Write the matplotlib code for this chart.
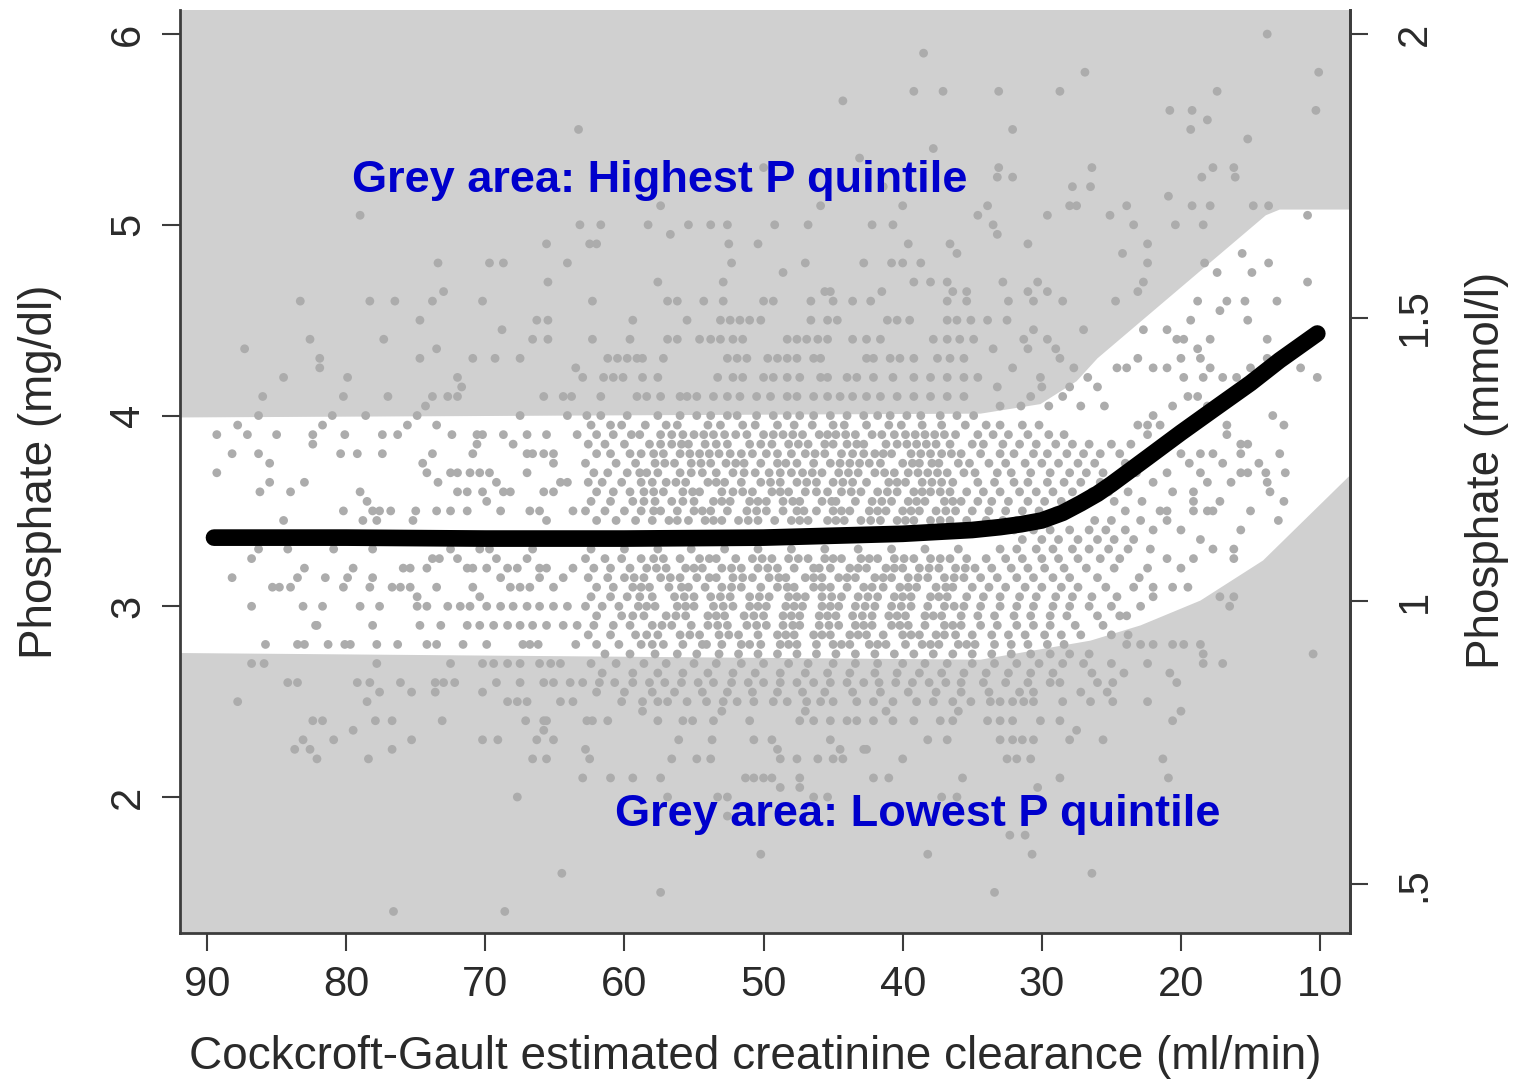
import matplotlib
matplotlib.use('Agg')
import matplotlib.pyplot as plt

OUT_PNG = 'out.png'

# white band = middle quintiles of phosphate (mg/dl) by clearance (ml/min)
band_top_x = [92, 34.4, 30.1, 27.5, 26.0, 21.0, 13.9, 12.9, 7.8]
band_top_y = [3.99, 4.01, 4.06, 4.18, 4.30, 4.61, 5.05, 5.08, 5.08]
band_low_x = [92, 34.4, 26.5, 22.9, 18.6, 14.1, 7.8]
band_low_y = [2.755, 2.72, 2.82, 2.90, 3.03, 3.24, 3.69]

# fitted curve
fit_x = [89.5, 80, 70, 60, 50, 45, 40, 35, 33, 31.5, 30, 28.5, 27.2, 26, 25, 22.4, 20, 17.7,
         15, 12.9, 10.2]
fit_y = [3.36, 3.36, 3.355, 3.355, 3.36, 3.37, 3.38, 3.40, 3.415, 3.43, 3.45, 3.49, 3.54, 3.59,
         3.64, 3.78, 3.91, 4.03, 4.17, 4.29, 4.43]

# patients, grouped by phosphate level -> clearance values
pts_high = {
    6.0: [13.8],
    5.9: [38.5],
    5.8: [26.9, 10.1],
    5.7: [39.2, 37.1, 33.1, 28.7, 17.4],
    5.65: [44.3],
    5.6: [20.8, 19.2, 10.3],
    5.55: [18.1],
    5.5: [63.3, 32.1, 19.3],
    5.45: [15.2],
    5.4: [37.8],
    5.35: [43.1],
    5.3: [50.0, 33.1, 26.4, 17.7, 16.2],
    5.25: [33.2, 32.1, 18.5, 16.1],
    5.2: [41.4, 27.8, 26.5],
    5.15: [20.9],
    5.1: [57.4, 45.9, 40.0, 33.9, 28.0, 27.5, 23.9, 19.2, 17.9, 14.8, 13.7],
    5.05: [79.0, 34.6, 29.6, 25.1, 10.9],
    5.0: [63.2, 61.7, 58.3, 55.4, 53.8, 52.6, 49.2, 46.8, 42.2, 40.7, 33.5, 23.4, 20.4, 18.4],
    4.95: [56.7, 33.2],
    4.9: [65.6, 62.5, 62.0, 52.5, 50.4, 39.6, 36.6, 31.0, 22.4],
    4.85: [36.1, 24.2, 15.6],
    4.8: [73.4, 69.7, 68.7, 64.1, 52.3, 47.0, 42.8, 40.8, 40.0, 38.7, 22.4, 18.3, 13.7],
    4.75: [48.6, 17.4, 14.9],
    4.7: [65.5, 57.6, 52.9, 39.2, 38.0, 36.8, 32.8, 30.3, 22.7, 10.9],
    4.65: [73.0, 45.6, 45.2, 41.5, 36.4, 35.4, 31.0, 29.6, 23.1],
    4.6: [83.3, 78.3, 76.5, 73.8, 70.2, 62.3, 56.9, 56.2, 54.3, 52.9, 50.0, 49.3, 46.6, 45.0,
          43.6, 42.3, 36.8, 35.4, 32.4, 30.6, 28.5, 24.7, 18.8, 16.7, 15.4, 13.1],
    4.55: [17.2],
    4.5: [74.7, 66.3, 65.5, 59.4, 55.5, 53.1, 52.4, 51.7, 51.0, 50.2, 46.6, 45.4, 44.7, 41.1,
          40.4, 39.5, 36.8, 36.1, 35.1, 33.9, 32.5, 19.3, 15.2],
    4.45: [68.8, 30.6, 27.0, 22.7, 21.0],
    4.4: [82.6, 77.3, 66.6, 65.5, 62.3, 59.6, 56.9, 56.2, 54.6, 53.8, 53.1, 52.2, 51.5, 48.3,
          47.6, 46.9, 46.1, 45.4, 43.6, 42.6, 41.6, 37.8, 36.8, 35.9, 34.9, 31.3, 29.6, 20.3,
          19.8, 17.9, 13.8],
    4.35: [87.3, 73.5, 33.5, 31.0, 29.0, 18.8],
    4.3: [81.9, 74.7, 70.9, 69.3, 67.5, 61.2, 60.5, 59.8, 59.1, 58.7, 57.2, 52.6, 51.9, 51.2,
          49.7, 49.0, 48.3, 47.6, 46.4, 45.9, 42.6, 42.1, 40.9, 40.2, 39.2, 37.5, 36.6, 35.6,
          28.7, 23.1, 20.0, 18.6, 13.8],
    4.25: [81.9, 63.5, 32.1, 27.7, 24.6, 23.9, 22.0, 21.0, 17.9, 15.0, 11.4],
    4.2: [84.5, 79.9, 72.0, 63.0, 61.5, 60.8, 60.1, 58.7, 57.6, 53.3, 52.2, 51.5, 50.0, 49.3,
          48.3, 47.4, 45.9, 45.4, 44.0, 43.3, 42.1, 40.7, 39.2, 38.0, 36.8, 35.6, 34.6, 30.1,
          26.7, 19.8, 18.4, 17.0, 16.0, 10.2],
    4.15: [71.7, 33.2, 30.0, 28.0, 26.0],
    4.1: [86.0, 80.2, 77.0, 73.8, 72.7, 72.0, 65.8, 64.4, 63.8, 61.7, 59.1, 58.4, 57.4, 56.0,
          55.5, 54.8, 53.6, 52.6, 51.7, 50.5, 49.5, 48.3, 47.6, 46.4, 45.4, 44.5, 43.6, 42.6,
          41.6, 40.4, 39.2, 38.0, 36.8, 35.6, 30.8, 28.5, 19.5, 18.8],
    4.05: [74.3, 33.0, 31.5, 29.5, 27.2, 25.5, 20.6, 18.1],
    4.0: [86.3, 81.0, 78.6, 74.9, 67.5, 64.1, 62.7, 61.7, 59.8, 57.6, 56.0, 54.8, 53.8, 52.6,
          51.9, 50.5, 49.3, 48.3, 47.4, 46.4, 45.2, 44.0, 42.8, 41.8, 40.9, 39.7, 38.7, 37.3,
          36.1, 34.9, 22.0, 13.4],
}

pts_mid = {
    3.95: [87.8, 81.7, 75.6, 73.5, 62.4, 61.0, 60.2, 58.5, 57.0, 56.2, 54.0, 53.1, 51.5, 50.6,
           49.0, 47.8, 46.5, 45.0, 44.2, 42.6, 41.0, 40.1, 38.6, 37.2, 35.5, 34.0, 33.0, 31.4,
           30.2, 23.1, 22.4, 21.5, 16.7, 12.6],
    3.9: [89.3, 87.1, 85.0, 82.4, 80.1, 77.4, 76.3, 72.4, 70.6, 70.2, 68.7, 67.0, 65.6, 63.4,
          62.0, 60.8, 59.5, 58.9, 57.4, 55.8, 55.0, 53.6, 52.0, 51.2, 50.0, 48.6, 47.2, 46.0,
          44.8, 43.4, 42.2, 41.5, 39.8, 38.4, 37.0, 36.2, 34.6, 33.5, 32.4, 31.0, 29.5, 28.4,
          22.4, 16.7, 56.6, 54.3, 52.8, 49.3, 47.9, 45.4, 44.1, 40.6, 39.1, 37.7],
    3.85: [82.4, 70.6, 68.0, 62.6, 61.4, 60.0, 58.2, 56.6, 55.4, 54.2, 52.6, 51.0, 49.4, 48.2,
           46.8, 45.6, 44.0, 42.8, 41.2, 40.4, 39.0, 37.6, 36.6, 35.0, 34.2, 32.8, 31.6, 30.4,
           29.0, 27.8, 26.6, 25.0, 23.6, 21.0, 15.7, 15.2, 57.4, 55.9, 53.4, 50.2, 47.5, 45.0,
           43.3, 39.7, 38.3],
    3.8: [88.2, 86.3, 80.4, 79.2, 77.4, 73.8, 70.9, 67.0, 66.6, 65.8, 65.1, 62.0, 61.0, 59.6,
          58.8, 57.2, 56.0, 54.6, 53.2, 52.4, 50.8, 49.8, 48.0, 47.0, 45.6, 44.4, 43.6, 42.0,
          40.8, 39.4, 38.0, 37.2, 35.8, 34.4, 33.0, 32.0, 30.6, 29.6, 28.2, 27.0, 25.8, 24.4,
          20.0, 18.6, 17.7, 15.7, 12.9, 57.9, 55.3, 53.9, 51.6, 49.0, 46.3, 42.8, 41.4, 38.7,
          36.5],
    3.75: [85.5, 74.5, 65.1, 62.8, 60.6, 59.2, 57.8, 56.4, 55.2, 53.8, 52.0, 51.4, 49.0, 48.4,
           46.4, 45.2, 43.8, 42.4, 41.6, 40.0, 38.8, 37.4, 36.0, 35.2, 33.8, 32.6, 31.2, 30.0,
           28.8, 27.4, 26.2, 24.0, 22.6, 19.4, 17.0, 14.4, 57.1, 54.5, 52.7, 50.2, 47.6, 44.5,
           43.1, 39.3, 37.9],
    3.7: [89.3, 74.2, 72.5, 72.0, 71.1, 70.4, 69.7, 67.0, 62.2, 61.2, 59.8, 58.4, 57.6, 56.0,
          54.4, 53.4, 52.2, 50.6, 49.6, 48.0, 47.2, 45.8, 44.6, 43.2, 42.0, 40.6, 39.6, 38.2,
          36.8, 35.6, 34.8, 33.2, 32.2, 30.8, 29.4, 28.0, 26.8, 25.6, 23.2, 21.0, 18.6, 15.7,
          15.2, 13.9, 12.5, 58.9, 55.2, 51.4, 48.8, 46.5, 43.9, 41.3, 38.9, 37.5],
    3.65: [85.5, 83.0, 73.4, 69.2, 64.6, 64.1, 62.6, 61.6, 60.2, 58.0, 57.0, 55.6, 54.0, 52.8,
           51.6, 50.2, 48.8, 47.6, 46.2, 45.0, 43.6, 42.6, 41.0, 39.8, 38.6, 37.2, 36.4, 34.6,
           33.4, 32.0, 31.0, 29.6, 28.4, 27.2, 25.8, 24.6, 22.0, 18.1, 16.4, 13.8, 58.8, 56.3,
           53.4, 49.5, 46.9, 44.3, 40.4, 37.9],
    3.6: [86.2, 84.0, 79.0, 72.0, 71.3, 70.2, 68.7, 68.2, 65.8, 65.1, 62.0, 60.8, 59.6, 58.6,
          57.2, 55.8, 54.6, 53.0, 52.2, 50.8, 49.4, 48.2, 47.0, 45.4, 44.4, 43.0, 41.8, 40.4,
          39.2, 38.0, 36.6, 35.4, 34.2, 33.0, 31.6, 30.4, 29.2, 27.8, 26.4, 25.2, 23.8, 20.6,
          19.1, 13.6, 57.9, 55.1, 51.5, 48.8, 46.2, 43.7, 41.1, 38.6, 37.3],
    3.55: [78.5, 69.9, 62.4, 61.0, 59.4, 57.8, 56.6, 55.0, 53.6, 52.4, 51.0, 49.8, 48.6, 47.4,
           45.8, 44.8, 43.4, 42.2, 40.8, 39.6, 38.4, 37.0, 35.8, 34.6, 33.6, 32.4, 31.0, 29.8,
           28.6, 27.0, 24.8, 22.8, 19.1, 17.2, 12.6, 58.6, 55.8, 53.0, 50.4, 47.9, 45.1, 41.5,
           39.0, 36.4],
    3.5: [80.2, 78.1, 77.6, 76.8, 75.0, 73.5, 72.5, 71.3, 68.9, 66.8, 66.1, 63.7, 62.8, 61.4,
          60.0, 58.8, 57.4, 56.2, 55.0, 53.8, 52.6, 51.2, 49.8, 48.6, 47.6, 46.2, 45.0, 43.8,
          42.4, 41.2, 40.0, 38.8, 37.6, 36.2, 35.0, 33.8, 32.6, 31.4, 30.2, 29.0, 24.0, 21.5,
          21.0, 19.1, 18.1, 17.7, 15.0, 57.9, 54.4, 50.5, 47.1, 44.4, 41.8, 39.4, 36.9],
    3.45: [84.5, 78.8, 77.8, 75.2, 65.6, 62.0, 60.6, 59.2, 58.0, 56.8, 55.4, 54.2, 53.0, 51.8,
           50.4, 49.2, 48.0, 46.8, 45.4, 44.2, 43.0, 41.6, 40.4, 39.2, 38.0, 36.6, 35.4, 34.0,
           32.8, 31.8, 26.2, 25.0, 22.9, 21.0, 13.0, 56.2, 53.6, 51.1, 47.4, 44.8, 42.3, 39.8,
           37.3],
    3.4: [32.0, 30.6, 29.4, 28.0, 26.6, 25.4, 24.0, 22.0, 20.0, 15.7],
    3.35: [31.4, 30.0, 28.8, 27.4, 26.0, 24.8, 23.4, 18.6],
    3.3: [86.3, 84.2, 80.9, 78.1, 72.5, 70.4, 69.7, 66.6, 62.4, 60.0, 57.6, 55.2, 52.8, 50.4,
          48.0, 45.6, 43.2, 40.8, 38.4, 36.0, 33.0, 31.8, 30.4, 29.2, 27.8, 26.6, 25.2, 23.8,
          22.2, 17.7, 16.2],
    3.25: [86.8, 73.8, 73.3, 72.0, 69.2, 67.0, 62.8, 61.4, 60.2, 58.8, 57.2, 56.0, 54.6, 53.4,
           52.0, 50.8, 49.4, 48.2, 46.8, 45.6, 44.4, 43.0, 41.8, 40.6, 39.2, 38.0, 36.6, 35.4,
           34.0, 32.6, 31.4, 30.0, 28.8, 27.4, 25.8, 24.4, 21.0, 19.1, 16.2, 57.9, 53.9, 50.1,
           47.5, 45.0, 42.4, 39.9, 37.3],
    3.2: [83.0, 79.5, 75.9, 75.4, 74.2, 71.3, 70.9, 69.9, 68.4, 67.7, 66.1, 65.6, 63.7, 62.2,
          61.0, 59.6, 58.4, 57.0, 55.6, 54.4, 53.0, 51.6, 50.4, 49.0, 47.8, 46.4, 45.2, 43.8,
          42.6, 41.2, 40.0, 38.8, 37.4, 36.2, 34.8, 33.6, 32.2, 31.0, 29.8, 28.4, 26.8, 24.8,
          22.4, 20.0, 57.7, 55.0, 52.3, 49.7, 46.0, 43.2, 40.6, 38.1, 35.5],
    3.15: [88.2, 83.5, 81.5, 79.9, 78.1, 68.9, 66.1, 64.4, 62.6, 61.2, 60.0, 58.6, 57.4, 56.0,
           54.8, 53.4, 52.2, 50.8, 49.6, 48.4, 47.0, 45.8, 44.6, 43.4, 42.0, 40.8, 39.6, 38.2,
           37.0, 35.6, 34.4, 33.2, 31.8, 30.6, 29.2, 28.0, 26.0, 23.0, 59.3, 56.7, 53.9, 51.5,
           48.9, 46.4, 44.0, 41.4, 38.9, 36.3],
    3.1: [85.3, 84.8, 84.0, 80.2, 78.3, 76.7, 76.1, 75.4, 73.5, 70.9, 68.2, 67.5, 66.8, 65.1,
          62.0, 60.8, 59.4, 58.2, 56.8, 55.4, 54.2, 53.0, 51.6, 50.2, 49.0, 47.8, 46.4, 45.2,
          44.0, 42.8, 41.4, 40.2, 39.0, 37.6, 36.4, 35.0, 33.8, 32.6, 31.2, 30.0, 28.6, 27.4,
          25.4, 23.4, 22.0, 20.6, 19.5, 58.8, 55.9, 52.3, 48.3, 45.8, 42.2, 39.6, 36.9],
    3.05: [74.9, 70.4, 62.4, 61.0, 59.8, 58.0, 56.4, 55.0, 53.8, 52.4, 51.0, 49.6, 48.2, 47.0,
           45.8, 44.4, 43.2, 41.8, 40.6, 39.4, 38.0, 36.8, 35.4, 34.2, 33.0, 31.6, 30.4, 29.0,
           27.8, 26.4, 24.6, 22.0, 17.2, 16.2, 58.9, 55.7, 53.1, 50.3, 47.6, 45.1, 42.5, 40.0,
           37.4],
    3.0: [86.8, 83.1, 81.7, 79.0, 77.6, 74.9, 74.2, 72.7, 71.8, 71.1, 69.9, 68.9, 68.0, 67.0,
          66.1, 65.1, 64.1, 62.8, 61.6, 60.4, 59.0, 57.8, 56.2, 55.0, 53.6, 52.2, 51.0, 49.8,
          48.4, 47.2, 45.8, 44.6, 43.4, 42.0, 40.8, 39.4, 38.2, 37.0, 35.6, 34.4, 33.0, 31.8,
          30.6, 29.2, 28.0, 26.6, 25.0, 22.9, 16.5, 58.4, 55.6, 52.9, 50.4, 47.8, 45.2, 42.7,
          40.1, 36.3],
    2.95: [62.0, 60.2, 58.6, 57.0, 55.6, 54.0, 52.8, 51.4, 50.0, 48.6, 47.4, 46.0, 44.8, 43.6,
           42.2, 41.0, 39.8, 38.4, 37.2, 35.8, 34.6, 33.4, 32.0, 30.8, 29.4, 28.2, 26.0, 24.4,
           23.9, 59.4, 56.3, 53.4, 50.7, 48.0, 45.4, 42.9, 40.4, 37.8],
    2.9: [82.2, 82.1, 78.1, 74.7, 73.2, 71.3, 70.4, 69.4, 68.4, 67.5, 66.6, 65.6, 64.4, 63.4,
          62.2, 60.8, 59.6, 58.0, 56.6, 55.2, 54.0, 52.6, 51.2, 49.8, 48.6, 47.4, 46.0, 44.6,
          43.4, 42.2, 40.8, 39.6, 38.4, 37.0, 35.8, 34.4, 33.2, 31.8, 30.6, 29.4, 27.6, 25.6,
          57.3, 53.3, 50.5, 47.9, 45.3, 42.8, 40.2, 36.4],
    2.85: [62.6, 61.0, 59.2, 57.6, 56.0, 54.6, 53.2, 51.8, 50.4, 49.0, 47.8, 46.4, 45.2, 43.8,
           42.6, 41.4, 40.0, 38.8, 37.6, 36.2, 35.0, 33.6, 32.4, 31.2, 29.8, 28.6, 27.2, 25.0,
           23.8, 58.4, 55.3, 52.5, 48.4, 45.8, 43.2, 39.4, 37.0],
    2.8: [85.8, 83.5, 83.0, 81.3, 80.1, 79.7, 77.8, 76.3, 74.2, 73.5, 71.6, 69.9, 67.3, 66.8,
          66.2, 63.5, 62.0, 60.4, 58.8, 57.2, 55.8, 54.4, 53.0, 51.6, 50.2, 48.8, 47.6, 46.2,
          45.0, 43.8, 42.4, 41.2, 39.8, 38.6, 37.4, 36.0, 34.8, 33.4, 32.2, 31.0, 29.6, 28.4,
          23.9, 22.9, 22.0, 20.6, 19.8, 18.6, 58.0, 54.1, 51.0, 48.2, 44.4, 41.8, 38.0, 35.4],
    2.75: [61.4, 59.6, 57.8, 56.2, 54.8, 53.2, 51.8, 50.4, 49.0, 47.6, 46.2, 44.8, 43.4, 42.0,
           40.6, 39.2, 37.8, 36.4, 35.0, 33.6, 32.2, 30.8, 29.4, 28.0, 26.6, 18.4, 10.5],
}

pts_low = {
    2.7: [86.8, 85.9, 77.8, 72.5, 70.2, 69.4, 68.4, 67.5, 66.1, 65.3, 64.6, 62.4, 60.6, 58.6,
          57.0, 55.0, 53.4, 51.6, 50.0, 48.2, 46.8, 45.0, 43.4, 41.8, 40.0, 38.4, 36.8, 35.0,
          33.4, 31.8, 30.2, 28.5, 27.0, 25.0, 22.4, 18.4, 17.0],
    2.65: [61.6, 59.4, 57.6, 55.8, 54.0, 52.2, 50.6, 48.8, 47.0, 45.4, 43.8, 42.0, 40.4, 38.8,
           37.2, 35.6, 34.0, 32.4, 30.8, 29.2, 26.4, 24.1, 20.8],
    2.6: [84.2, 83.5, 79.2, 78.3, 76.1, 73.6, 73.0, 72.2, 69.2, 67.5, 65.8, 65.1, 63.9, 63.0,
          61.8, 60.7, 59.4, 58.2, 57.1, 55.9, 54.7, 53.6, 52.3, 51.1, 50.0, 48.8, 47.6, 46.4,
          45.2, 44.0, 42.8, 41.7, 40.5, 39.3, 38.1, 36.9, 35.8, 34.2, 32.6, 31.0, 29.4, 28.7,
          26.0, 24.9, 20.3],
    2.55: [77.6, 75.3, 73.6, 70.2, 62.0, 60.0, 58.0, 56.4, 54.4, 52.6, 50.8, 49.0, 47.2, 45.6,
           43.6, 41.6, 39.6, 37.6, 35.8, 33.8, 31.6, 30.6, 27.2, 25.3],
    2.5: [87.8, 78.5, 68.4, 67.7, 67.0, 64.6, 63.7, 60.2, 58.7, 57.6, 56.9, 55.5, 54.1, 52.9,
          51.9, 50.7, 49.3, 48.3, 46.9, 45.9, 45.0, 43.3, 42.1, 40.7, 39.0, 37.8, 36.4, 35.1,
          33.7, 33.0, 32.1, 31.3, 30.6, 28.5, 26.5, 24.9, 22.4],
    2.45: [58.7, 53.0, 47.0, 41.2, 36.0, 20.0],
    2.4: [82.4, 81.7, 77.9, 76.7, 73.1, 67.1, 65.8, 65.6, 62.7, 62.3, 61.2, 57.6, 55.8, 55.1,
          53.6, 51.0, 47.4, 46.4, 45.2, 44.0, 43.3, 42.1, 40.7, 39.2, 37.3, 36.4, 33.9, 33.0,
          32.1, 30.1, 28.7, 20.6],
    2.35: [79.5, 65.8, 27.5],
    2.3: [83.1, 80.9, 75.3, 70.2, 69.1, 66.3, 65.1, 56.1, 53.7, 50.7, 49.4, 45.2, 38.2, 36.8,
          33.0, 32.1, 31.4, 30.6, 28.0, 25.6],
    2.25: [83.7, 82.6, 76.7, 62.8, 49.0, 44.5, 42.8, 42.6],
    2.2: [82.1, 78.4, 66.6, 65.6, 62.5, 56.6, 54.8, 53.8, 48.8, 47.6, 46.1, 45.0, 44.3, 40.0,
          32.5, 31.8, 30.8, 21.3],
    2.1: [63.0, 61.0, 59.4, 57.4, 51.3, 50.7, 50.0, 49.4, 47.4, 42.1, 41.0, 35.7, 28.7, 20.9],
    2.05: [48.8, 47.4, 30.3],
    2.0: [67.7, 56.9, 53.3, 52.6, 46.4, 45.4, 37.2, 36.1],
    1.9: [52.6],
    1.8: [32.3, 31.2],
    1.7: [50.2, 38.2, 30.7],
    1.6: [64.5, 26.4],
    1.5: [57.4, 33.4],
    1.4: [76.6, 68.6],
}

x_ticks = [90, 80, 70, 60, 50, 40, 30, 20, 10]
y_ticks = [2, 3, 4, 5, 6]
mmol_ticks = [0.5, 1, 1.5, 2]
mmol_labels = ['.5', '1', '1.5', '2']

XLIM = (91.94, 7.84)
YLIM = (1.287, 6.126)
MMOL_LIM = (0.4144, 2.0424)

LABEL_FONT = ['Liberation Sans', 'DejaVu Sans']
BG_GREY = '#d0d0d0'
DOT_GREY = '#acacac'
AX_COL = '#3c3c3c'
TXT_COL = '#2a2a2a'


def flatten(groups):
    xs, ys = [], []
    for y, row in groups.items():
        xs.extend(row)
        ys.extend([y] * len(row))
    return xs, ys


def main():
    fig = plt.figure(figsize=(15.17, 10.81), dpi=100)
    ax = fig.add_axes([0.1187, 0.1369, 0.7713, 0.8538])
    ax.set_facecolor(BG_GREY)
    ax.set_xlim(*XLIM)
    ax.set_ylim(*YLIM)

    ax.fill(band_top_x + band_low_x[::-1], band_top_y + band_low_y[::-1],
            color='white', lw=0, zorder=1)

    for grp in (pts_high, pts_mid, pts_low):
        xs, ys = flatten(grp)
        ax.scatter(xs, ys, s=40, c=DOT_GREY, edgecolors='none', zorder=2)

    ax.plot(fit_x, fit_y, color='black', lw=12, solid_capstyle='round',
            solid_joinstyle='round', zorder=3)

    ax.text(79.6, 5.17, 'Grey area: Highest P quintile', color='#0000cc',
            fontsize=32.5, fontweight='bold', family=LABEL_FONT,
            ha='left', va='baseline', zorder=4)
    ax.text(60.7, 1.85, 'Grey area: Lowest P quintile', color='#0000cc',
            fontsize=32.5, fontweight='bold', family=LABEL_FONT,
            ha='left', va='baseline', zorder=4)

    ax.set_xticks(x_ticks)
    ax.set_xticklabels([str(v) for v in x_ticks])
    ax.set_yticks(y_ticks)
    ax.set_yticklabels([str(v) for v in y_ticks], rotation=90, va='center')

    for sp in ('left', 'bottom', 'right'):
        ax.spines[sp].set_color(AX_COL)
        ax.spines[sp].set_linewidth(2)
    ax.spines['top'].set_visible(False)

    ax.tick_params(axis='both', length=13, width=1.5, color=AX_COL,
                   labelsize=30, labelcolor=TXT_COL)
    ax.tick_params(axis='x', pad=10)
    ax.tick_params(axis='y', pad=10)
    for lab in ax.get_xticklabels() + ax.get_yticklabels():
        lab.set_family(LABEL_FONT)

    ax2 = ax.twinx()
    ax2.set_ylim(*MMOL_LIM)
    ax2.set_yticks(mmol_ticks)
    ax2.set_yticklabels(mmol_labels, rotation=90, va='center')
    ax2.tick_params(axis='y', length=13, width=1.5, color=AX_COL,
                    labelsize=30, labelcolor=TXT_COL, pad=19)
    for lab in ax2.get_yticklabels():
        lab.set_family(LABEL_FONT)
    for sp in ('left', 'bottom', 'top'):
        ax2.spines[sp].set_visible(False)
    ax2.spines['right'].set_color(AX_COL)
    ax2.spines['right'].set_linewidth(2)

    fig.text(40 / 1517, 1 - 472 / 1081, 'Phosphate (mg/dl)', rotation=90,
             ha='center', va='center', fontsize=33, color=TXT_COL, family=LABEL_FONT)
    fig.text(1487 / 1517, 1 - 470 / 1081, 'Phosphate (mmol/l)', rotation=90,
             ha='center', va='center', fontsize=33, color=TXT_COL, family=LABEL_FONT)
    fig.text(755 / 1517, 1 - 1057 / 1081,
             'Cockcroft-Gault estimated creatinine clearance (ml/min)',
             ha='center', va='center', fontsize=33, color=TXT_COL, family=LABEL_FONT)

    fig.savefig(OUT_PNG, dpi=100, facecolor='white')
    plt.close(fig)


if __name__ == '__main__':
    main()
